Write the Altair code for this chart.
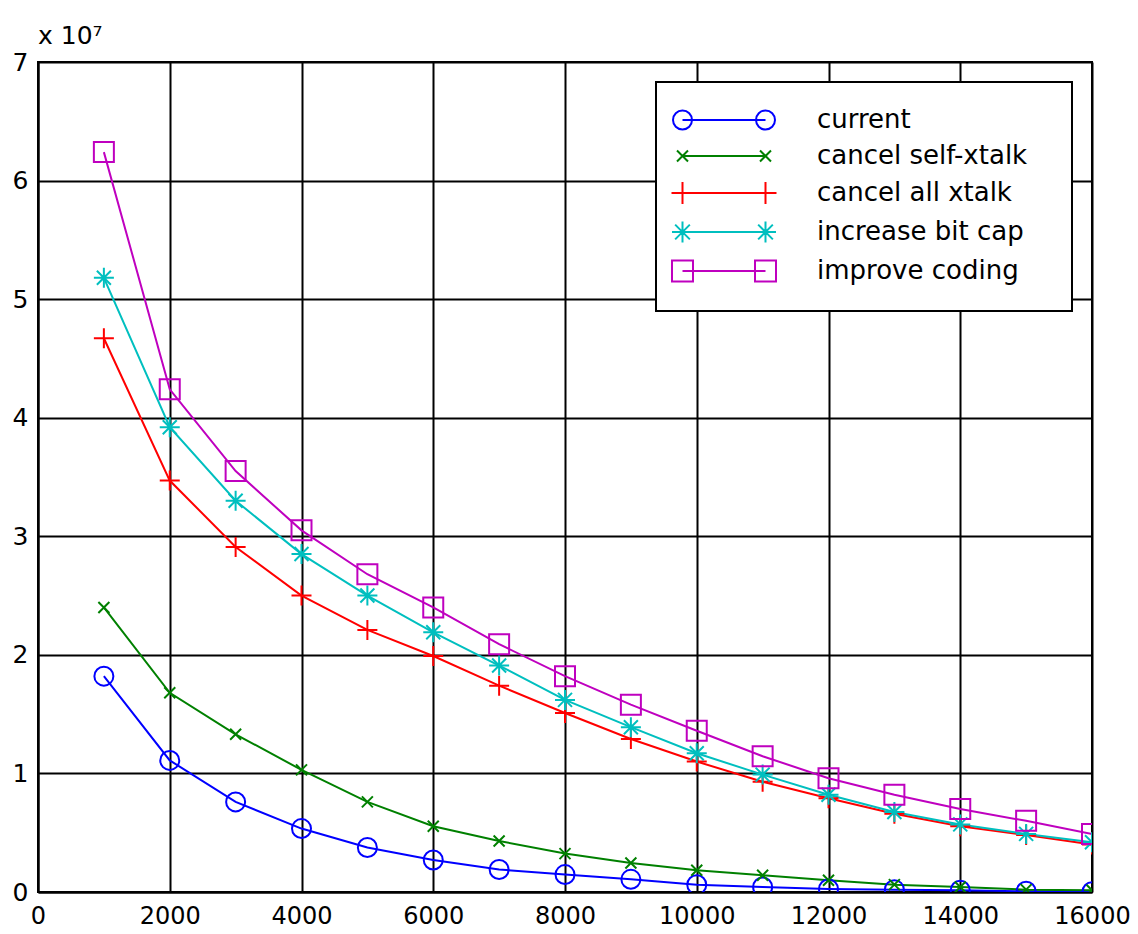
import altair as alt
import pandas as pd

# ---- data (y values in units of 10^7) ----
x_values = [1000, 2000, 3000, 4000, 5000, 6000, 7000, 8000,
            9000, 10000, 11000, 12000, 13000, 14000, 15000, 16000]
series_names = ["current", "cancel self-xtalk", "cancel all xtalk",
                "increase bit cap", "improve coding"]
current = [1.82, 1.11, 0.76, 0.535, 0.375, 0.27, 0.19, 0.147,
           0.107, 0.062, 0.042, 0.025, 0.02, 0.015, 0.006, 0.003]
cancel_self = [2.40, 1.68, 1.33, 1.03, 0.76, 0.555, 0.43, 0.324,
               0.245, 0.183, 0.141, 0.099, 0.062, 0.042, 0.02, 0.015]
cancel_all = [4.67, 3.47, 2.91, 2.50, 2.21, 1.99, 1.74, 1.51,
              1.29, 1.10, 0.93, 0.79, 0.66, 0.555, 0.48, 0.40]
increase_bit = [5.18, 3.92, 3.30, 2.85, 2.50, 2.19, 1.91, 1.62,
                1.39, 1.17, 0.99, 0.82, 0.675, 0.57, 0.49, 0.42]
improve_coding = [6.24, 4.24, 3.55, 3.05, 2.68, 2.40, 2.09, 1.82,
                  1.58, 1.36, 1.145, 0.96, 0.82, 0.70, 0.60, 0.49]
x_ticks = [0, 2000, 4000, 6000, 8000, 10000, 12000, 14000, 16000]
y_ticks = [0, 1, 2, 3, 4, 5, 6, 7]

series_values = [current, cancel_self, cancel_all, increase_bit, improve_coding]
rows = []
for name, vals in zip(series_names, series_values):
    for xv, yv in zip(x_values, vals):
        rows.append({"x": xv, "y": yv, "series": name})
df = pd.DataFrame(rows)

# ---- styles ----
colors = ["#0000FF", "#008000", "#FF0000", "#00BFBF", "#BF00BF"]
FONT = "DejaVu Sans"


def circle(cx, r):
    return f"M{cx + r},0A{r},{r} 0 1,1 {cx - r},0A{r},{r} 0 1,1 {cx + r},0"


def xcross(cx, h):
    return f"M{cx - h},{-h}L{cx + h},{h}M{cx - h},{h}L{cx + h},{-h}"


def plus(cx, h):
    return f"M{cx - h},0L{cx + h},0M{cx},{-h}L{cx},{h}"


def star(cx, h):
    d = round(h * 0.7, 3)
    return plus(cx, h) + f"M{cx - d},{-d}L{cx + d},{d}M{cx - d},{d}L{cx + d},{-d}"


def square(cx, h):
    return f"M{cx - h},{-h}L{cx + h},{-h}L{cx + h},{h}L{cx - h},{h}Z"


plot_shapes = [circle(0, 0.95), xcross(0, 0.55), plus(0, 1.0),
               star(0, 1.0), square(0, 1.0)]

m1, m2 = -1.15, 7.15
legend_shapes = [
    circle(m1, 0.95) + f"M{m1},0L{m2},0" + circle(m2, 0.95),
    xcross(m1, 0.55) + f"M{m1},0L{m2},0" + xcross(m2, 0.55),
    plus(m1, 1.1) + f"M{m1},0L{m2},0" + plus(m2, 1.1),
    star(m1, 1.05) + f"M{m1},0L{m2},0" + star(m2, 1.05),
    square(m1, 1.05) + f"M{m1},0L{m2},0" + square(m2, 1.05),
]

x_enc = alt.X("x:Q", scale=alt.Scale(domain=[0, 16000], nice=False, zero=False),
              axis=alt.Axis(values=x_ticks, format="d", title=None, grid=True,
                            gridColor="black", gridWidth=2, gridOpacity=1,
                            domainColor="black", domainWidth=2, ticks=False,
                            labelFont=FONT, labelFontSize=24, labelColor="black",
                            labelPadding=12, labelFlush=False))
y_enc = alt.Y("y:Q", scale=alt.Scale(domain=[0, 7], nice=False),
              axis=alt.Axis(values=y_ticks, format="d", title=None, grid=True,
                            gridColor="black", gridWidth=2, gridOpacity=1,
                            domainColor="black", domainWidth=2, ticks=False,
                            labelFont=FONT, labelFontSize=25, labelColor="black",
                            labelPadding=10, labelFlush=False))

color_scale = alt.Scale(domain=series_names, range=colors)

base = alt.Chart(df)

lines = base.mark_line(strokeWidth=2, clip=True).encode(
    x=x_enc, y=y_enc,
    color=alt.Color("series:N", scale=color_scale, legend=None),
    detail="series:N",
)

points = base.mark_point(filled=False, strokeWidth=2, size=400, opacity=1, clip=True).encode(
    x=x_enc, y=y_enc,
    color=alt.Color("series:N", scale=color_scale, legend=None),
    shape=alt.Shape("series:N", scale=alt.Scale(domain=series_names, range=plot_shapes),
                    legend=None),
)

legend = alt.Legend(
    title=None, orient="none", legendX=618, legendY=20,
    padding=25, fillColor="white", strokeColor="black",
    symbolSize=400, symbolStrokeWidth=2, symbolOpacity=1,
    symbolFillColor="transparent",
    labelFont=FONT, labelFontSize=26, labelColor="black",
    labelLimit=600, labelOffset=110, rowPadding=9,
    labelExpr="datum.label + '\u2800'",
)

legend_layer = base.transform_filter("false").mark_point(
    filled=False, strokeWidth=2, size=400, opacity=1
).encode(
    color=alt.Color("series:N", scale=color_scale, legend=legend),
    shape=alt.Shape("series:N", scale=alt.Scale(domain=series_names, range=legend_shapes),
                    legend=legend),
)

chart = alt.layer(lines, points, legend_layer).resolve_scale(
    color="independent", shape="independent"
).properties(
    width=1054, height=830,
    autosize="none",
    padding={"left": 30, "top": 54, "right": 38, "bottom": 40},
    title=alt.TitleParams(text="x 10⁷", anchor="start", frame="group", font=FONT,
                          fontSize=25, fontWeight="normal", color="black", offset=1),
).configure_view(
    stroke="black", strokeWidth=2
).configure_legend(
    strokeWidth=2
)

chart.save("out.html", embed_options={"renderer": "svg", "actions": False})
